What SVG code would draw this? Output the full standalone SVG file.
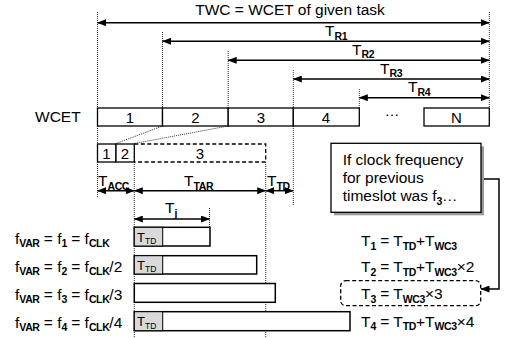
<svg xmlns="http://www.w3.org/2000/svg" width="507" height="338" viewBox="0 0 507 338">
<style>
text{font-family:"Liberation Sans",Arial,sans-serif;fill:#000}
.t{font-size:15.5px}
.s{font-size:10.5px;font-weight:bold;letter-spacing:-0.4px}
.n{font-size:15px;text-anchor:middle}
.g{stroke:#333;stroke-width:1;stroke-dasharray:1 1;fill:none}
.a{stroke:#000;stroke-width:1.5;fill:none;marker-start:url(#ah);marker-end:url(#ah)}
.box{fill:#fff;stroke:#000;stroke-width:1.3}
.bar{fill:#fff;stroke:#000;stroke-width:1.5}
.td{fill:#d9d9d9;stroke:#000;stroke-width:1}
</style>
<defs>
<marker id="ah" markerUnits="userSpaceOnUse" markerWidth="9" markerHeight="7" refX="8.5" refY="3.5" orient="auto-start-reverse">
<path d="M0,0 L9,3.5 L0,7 z" fill="#000"/>
</marker>
</defs>
<rect width="507" height="338" fill="#fff"/>

<g id="guides">
<path class="g" d="M97.5,12 V198 M489.3,12 V108 M162.5,32 V108 M228.2,51 V108 M293.3,70 V205 M359.3,89 V108 M134.3,162 V338 M265.7,162 V338 M209.5,208 V227 M97.5,162 V198"/>
<path class="g" d="M162.5,126 L116,143.5 M228.2,126 L134.3,143.5"/>
</g>

<g id="connectors">
<line class="a" x1="97.5" y1="22.7" x2="489.3" y2="22.7"/>
<line class="a" x1="162.5" y1="41.3" x2="489.3" y2="41.3"/>
<line class="a" x1="228.2" y1="60.3" x2="489.3" y2="60.3"/>
<line class="a" x1="293.3" y1="79" x2="489.3" y2="79"/>
<line class="a" x1="359.3" y1="97.7" x2="489.3" y2="97.7"/>
<line class="a" x1="97.5" y1="190.7" x2="134.3" y2="190.7"/>
<line class="a" x1="134.3" y1="190.7" x2="265.7" y2="190.7"/>
<line class="a" x1="265.7" y1="190.7" x2="293.3" y2="190.7"/>
<line class="a" x1="134.3" y1="219" x2="209.5" y2="219"/>
<path d="M481,179 H499 V289 H481" fill="none" stroke="#000" stroke-width="1.5" marker-end="url(#ah)"/>
</g>

<g id="labels-top">
<text class="t" x="290" y="15" text-anchor="middle">TWC = WCET of given task</text>
<text x="325" y="36"><tspan class="t">T</tspan><tspan class="s" dy="3.5">R1</tspan></text>
<text x="352" y="54.5"><tspan class="t">T</tspan><tspan class="s" dy="3.5">R2</tspan></text>
<text x="380" y="73.5"><tspan class="t">T</tspan><tspan class="s" dy="3.5">R3</tspan></text>
<text x="408" y="92"><tspan class="t">T</tspan><tspan class="s" dy="3.5">R4</tspan></text>
</g>

<g id="wcet">
<text class="t" x="35" y="122">WCET</text>
<rect class="box" x="97.5" y="108" width="65" height="18"/>
<rect class="box" x="162.5" y="108" width="65.7" height="18"/>
<rect class="box" x="228.2" y="108" width="65.1" height="18"/>
<rect class="box" x="293.3" y="108" width="66" height="18"/>
<rect class="box" x="424" y="108" width="65.3" height="18"/>
<text class="n" x="130" y="122.5">1</text>
<text class="n" x="195.5" y="122.5">2</text>
<text class="n" x="261" y="122.5">3</text>
<text class="n" x="326" y="122.5">4</text>
<text class="n" x="392" y="116">…</text>
<text class="n" x="456.5" y="122.5">N</text>
</g>

<g id="sub">
<rect class="box" x="97.5" y="144" width="18.5" height="18"/>
<rect class="box" x="116" y="144" width="18.3" height="18"/>
<path d="M134.3,144 H265.7 V162 H134.3" fill="none" stroke="#000" stroke-width="1.3" stroke-dasharray="4 2.5"/>
<text class="n" x="106.5" y="158.5">1</text>
<text class="n" x="125" y="158.5">2</text>
<text class="n" x="200" y="158.5">3</text>
</g>

<g id="time-labels">
<text x="98" y="186"><tspan class="t">T</tspan><tspan class="s" dy="3.5">ACC</tspan></text>
<text x="184" y="186"><tspan class="t">T</tspan><tspan class="s" dy="3.5">TAR</tspan></text>
<text x="267" y="186"><tspan class="t">T</tspan><tspan class="s" dy="3.5">TD</tspan></text>
<text x="165" y="213"><tspan class="t">T</tspan><tspan class="s" dy="3.5">j</tspan></text>
</g>

<g id="note">
<rect x="334" y="146.3" width="150" height="69" fill="#999"/>
<rect class="box" x="331" y="143.3" width="150" height="69"/>
<text class="t" x="342.7" y="165">If clock frequency</text>
<text class="t" x="342.7" y="183">for previous</text>
<text class="t" x="342.7" y="201">timeslot was f<tspan class="s" dy="3.5">3</tspan><tspan dy="-3.5">…</tspan></text>
</g>

<g id="freq-labels">
<text x="15" y="243.5"><tspan class="t">f</tspan><tspan class="s" dy="3.5">VAR</tspan><tspan class="t" dy="-3.5"> = f</tspan><tspan class="s" dy="3.5">1</tspan><tspan class="t" dy="-3.5"> = f</tspan><tspan class="s" dy="3.5">CLK</tspan></text>
<text x="15" y="271.5"><tspan class="t">f</tspan><tspan class="s" dy="3.5">VAR</tspan><tspan class="t" dy="-3.5"> = f</tspan><tspan class="s" dy="3.5">2</tspan><tspan class="t" dy="-3.5"> = f</tspan><tspan class="s" dy="3.5">CLK</tspan><tspan class="t" dy="-3.5">/2</tspan></text>
<text x="15" y="299.5"><tspan class="t">f</tspan><tspan class="s" dy="3.5">VAR</tspan><tspan class="t" dy="-3.5"> = f</tspan><tspan class="s" dy="3.5">3</tspan><tspan class="t" dy="-3.5"> = f</tspan><tspan class="s" dy="3.5">CLK</tspan><tspan class="t" dy="-3.5">/3</tspan></text>
<text x="15" y="327.5"><tspan class="t">f</tspan><tspan class="s" dy="3.5">VAR</tspan><tspan class="t" dy="-3.5"> = f</tspan><tspan class="s" dy="3.5">4</tspan><tspan class="t" dy="-3.5"> = f</tspan><tspan class="s" dy="3.5">CLK</tspan><tspan class="t" dy="-3.5">/4</tspan></text>
</g>

<g id="bars">
<rect class="bar" x="134.3" y="227.3" width="75.7" height="18.7"/>
<rect class="td" x="134.3" y="227.3" width="28.4" height="18.7"/>
<rect class="bar" x="134.3" y="255.7" width="122.4" height="18.3"/>
<rect class="td" x="134.3" y="255.7" width="28.4" height="18.3"/>
<rect class="bar" x="134.3" y="283.5" width="141" height="18.8"/>
<rect class="bar" x="134.3" y="311.7" width="215.7" height="19"/>
<rect class="td" x="134.3" y="311.7" width="28.4" height="19"/>
<text x="137" y="241.5"><tspan font-size="13px">T</tspan><tspan font-size="8.5px" dy="2.5">TD</tspan></text>
<text x="137" y="269.5"><tspan font-size="13px">T</tspan><tspan font-size="8.5px" dy="2.5">TD</tspan></text>
<text x="137" y="326"><tspan font-size="13px">T</tspan><tspan font-size="8.5px" dy="2.5">TD</tspan></text>
</g>

<g id="equations">
<text x="361" y="246"><tspan class="t">T</tspan><tspan class="s" dy="3.5">1</tspan><tspan class="t" dy="-3.5"> = T</tspan><tspan class="s" dy="3.5">TD</tspan><tspan class="t" dy="-3.5">+T</tspan><tspan class="s" dy="3.5">WC3</tspan></text>
<text x="361" y="272"><tspan class="t">T</tspan><tspan class="s" dy="3.5">2</tspan><tspan class="t" dy="-3.5"> = T</tspan><tspan class="s" dy="3.5">TD</tspan><tspan class="t" dy="-3.5">+T</tspan><tspan class="s" dy="3.5">WC3</tspan><tspan class="t" dy="-3.5">×2</tspan></text>
<rect x="340.7" y="280.7" width="140" height="25" rx="5" fill="none" stroke="#000" stroke-width="1.3" stroke-dasharray="4 2.5"/>
<text x="361" y="299"><tspan class="t">T</tspan><tspan class="s" dy="3.5">3</tspan><tspan class="t" dy="-3.5"> = T</tspan><tspan class="s" dy="3.5">WC3</tspan><tspan class="t" dy="-3.5">×3</tspan></text>
<text x="361" y="326.5"><tspan class="t">T</tspan><tspan class="s" dy="3.5">4</tspan><tspan class="t" dy="-3.5"> = T</tspan><tspan class="s" dy="3.5">TD</tspan><tspan class="t" dy="-3.5">+T</tspan><tspan class="s" dy="3.5">WC3</tspan><tspan class="t" dy="-3.5">×4</tspan></text>
</g>
</svg>
